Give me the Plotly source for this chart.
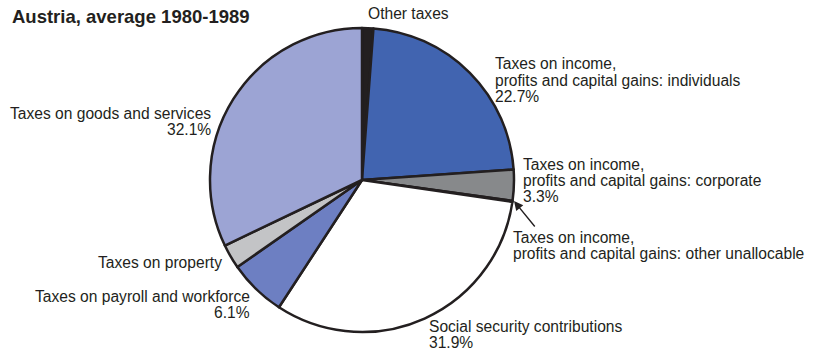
import plotly.graph_objects as go

W, H = 816, 355

# Tax structure, Austria 1980-1989 (share of total tax revenue, %)
categories = [
    "Other taxes",
    "Taxes on income, profits and capital gains: individuals",
    "Taxes on income, profits and capital gains: corporate",
    "Taxes on income, profits and capital gains: other unallocable",
    "Social security contributions",
    "Taxes on payroll and workforce",
    "Taxes on property",
    "Taxes on goods and services",
]
shares = [1.2, 22.7, 3.3, 0.1, 31.9, 6.1, 2.6, 32.1]
colors = ["#231f20", "#4164b0", "#87898b", "#ffffff", "#ffffff",
          "#6d7fc2", "#c3c4c6", "#9ca4d4"]

# which slices print their percentage under the name
show_pct = [False, True, True, False, True, True, False, True]
# label text lines (name split over lines)
label_lines = [
    ["Other taxes"],
    ["Taxes on income,", "profits and capital gains: individuals"],
    ["Taxes on income,", "profits and capital gains: corporate"],
    ["Taxes on income,", "profits and capital gains: other unallocable"],
    ["Social security contributions"],
    ["Taxes on payroll and workforce"],
    ["Taxes on property"],
    ["Taxes on goods and services"],
]
# label anchor (pixel x, pixel y of first line centre, horizontal alignment)
label_pos = [
    (367, 14, "left"),
    (494, 64, "left"),
    (522, 164, "left"),
    (512, 237, "left"),
    (428, 326, "left"),
    (251, 296, "right"),
    (223, 262, "right"),
    (212, 113, "right"),
]

LINE = 16.3
FONT = dict(family="Liberation Sans, Arial, sans-serif", size=15.6, color="#231f20")


def px(x, y):
    return x / W, 1 - y / H


cx, cy, r = 362, 180, 152
x0, y0 = px(cx - r, cy + r)
x1, y1 = px(cx + r, cy - r)

fig = go.Figure(go.Pie(
    labels=categories,
    values=shares,
    sort=False,
    direction="clockwise",
    rotation=0,
    marker=dict(colors=colors, line=dict(color="#231f20", width=2.5)),
    textinfo="none",
    hoverinfo="skip",
    showlegend=False,
    domain=dict(x=[x0, x1], y=[y0, y1]),
))

annotations = []
for lines, pct, (lx, ly, align), val in zip(label_lines, show_pct, label_pos, shares):
    rows = list(lines)
    if pct:
        rows.append(f"{val:.1f}%")
    for i, row in enumerate(rows):
        ax, ay = px(lx, ly + i * LINE)
        annotations.append(dict(
            x=ax, y=ay, xref="paper", yref="paper", text=row,
            showarrow=False, xanchor=align, yanchor="middle",
            font=FONT, borderpad=0,
        ))

# arrow pointing at the thin "other unallocable" slice
hx, hy = px(514, 201)
annotations.append(dict(
    x=hx, y=hy, xref="paper", yref="paper", text="",
    showarrow=True, ax=22, ay=27, axref="pixel", ayref="pixel",
    arrowhead=2, arrowsize=1.3, arrowwidth=1.4, arrowcolor="#231f20",
    standoff=0,
))

# chart title
tx, ty = px(10, 16)
annotations.append(dict(
    x=tx, y=ty, xref="paper", yref="paper",
    text="<b>Austria, average 1980-1989</b>", showarrow=False,
    xanchor="left", yanchor="middle",
    font=dict(family="Liberation Sans, Arial, sans-serif", size=18.5, color="#231f20"),
))

fig.update_layout(
    width=W, height=H,
    margin=dict(l=0, r=0, t=0, b=0),
    paper_bgcolor="white",
    plot_bgcolor="white",
    annotations=annotations,
)

fig.write_html("out.html")
